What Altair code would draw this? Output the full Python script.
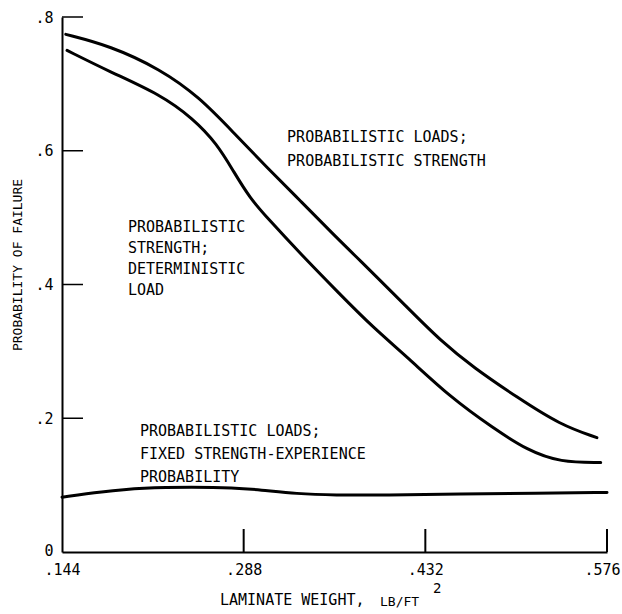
import altair as alt
import pandas as pd

# Probabilistic loads; probabilistic strength
top_x = [.147, .182, .222, .253, .280, .307, .333, .359, .378, .391, .418, .444, .470, .505, .539, .568]
top_y = [.774, .757, .722, .680, .627, .574, .525, .475, .440, .416, .365, .316, .276, .231, .190, .171]

# Probabilistic strength; deterministic load
mid_x = [.148, .182, .222, .248, .267, .280, .293, .307, .333, .364, .391, .418, .452, .486, .513, .539, .571]
mid_y = [.750, .718, .684, .648, .610, .569, .529, .499, .446, .386, .335, .291, .231, .185, .152, .134, .134]

# Probabilistic loads; fixed strength-experience probability
low_x = [.144, .175, .208, .248, .280, .301, .330, .360, .400, .460, .520, .576]
low_y = [.082, .090, .096, .097, .096, .093, .087, .085, .085, .087, .088, .089]

x_ticks = [.144, .288, .432, .576]
y_ticks = [0, .2, .4, .6, .8]
x_inner_ticks = [.288, .432, .576]
y_inner_ticks = [.2, .4, .6, .8]

FONT = "DejaVu Sans Mono"
W, H = 545, 535

curves = pd.concat([
    pd.DataFrame({"series": "loads_strength", "w": top_x, "p": top_y}),
    pd.DataFrame({"series": "strength_load", "w": mid_x, "p": mid_y}),
    pd.DataFrame({"series": "fixed_strength", "w": low_x, "p": low_y}),
])

xs = alt.Scale(domain=[.144, .576], nice=False, zero=False)
ys = alt.Scale(domain=[0, .8], nice=False, zero=False)

x_axis = alt.Axis(
    values=x_ticks, ticks=False, grid=False, title=None,
    labelExpr="replace(format(datum.value, '.3f'), '0.', '.')",
    labelFont=FONT, labelFontSize=15, labelColor="black", labelPadding=10,
    labelOffset={"condition": {"test": "datum.value > 0.5", "value": -5}, "value": 0},
    domainColor="black", domainWidth=2, labelFlush=False,
)
y_axis = alt.Axis(
    values=y_ticks, ticks=False, grid=False, title=None,
    labelExpr="datum.value == 0 ? '0' : replace(format(datum.value, '.1f'), '0.', '.')",
    labelFont=FONT, labelFontSize=15, labelColor="black", labelPadding=9,
    labelOffset={"condition": {"test": "datum.value == 0", "value": -2}, "value": 0},
    domainColor="black", domainWidth=2, labelFlush=False,
)

lines = alt.Chart(curves).mark_line(
    color="black", strokeWidth=3, interpolate="basis", strokeCap="round"
).encode(
    x=alt.X("w:Q", scale=xs, axis=x_axis),
    y=alt.Y("p:Q", scale=ys, axis=y_axis),
    detail="series:N",
    order="w:Q",
)

# inward-pointing tick marks
ytick = alt.Chart(pd.DataFrame({"v": y_inner_ticks})).mark_rule(
    color="black", strokeWidth=1.5
).encode(y=alt.Y("v:Q", scale=ys, axis=y_axis), x=alt.value(0), x2=alt.value(21))

xtick = alt.Chart(pd.DataFrame({"v": x_inner_ticks})).mark_rule(
    color="black", strokeWidth=2
).encode(x=alt.X("v:Q", scale=xs, axis=x_axis), y=alt.value(H), y2=alt.value(H - 23))

one = alt.Data(values=[{}])


def label(lines_, x, y, size=15, lh=23):
    return alt.Chart(one).mark_text(
        text=lines_, font=FONT, fontSize=size, lineHeight=lh, align="left",
        baseline="top", color="black"
    ).encode(
        x=alt.datum(x, scale=xs, axis=x_axis),
        y=alt.datum(y, scale=ys, axis=y_axis),
    )


lab_a = label(["PROBABILISTIC LOADS;", "PROBABILISTIC STRENGTH"], .3224, .631, lh=24)
lab_b = label(["PROBABILISTIC", "STRENGTH;", "DETERMINISTIC", "LOAD"], .1963, .497, lh=21)
lab_c = label(["PROBABILISTIC LOADS;", "FIXED STRENGTH-EXPERIENCE", "PROBABILITY"], .2058, .192, lh=23)

# axis titles
y_title = alt.Chart(one).mark_text(
    text="PROBABILITY OF FAILURE", font=FONT, fontSize=13, angle=270,
    align="center", baseline="middle", color="black"
).encode(x=alt.value(-44), y=alt.value(248))

x_title_a = alt.Chart(one).mark_text(
    text="LAMINATE WEIGHT,", font=FONT, fontSize=15, align="left",
    baseline="middle", color="black"
).encode(x=alt.value(158), y=alt.value(583))
x_title_b = alt.Chart(one).mark_text(
    text="LB/FT", font=FONT, fontSize=13, align="left",
    baseline="middle", color="black"
).encode(x=alt.value(318), y=alt.value(585))
x_title_c = alt.Chart(one).mark_text(
    text="2", font=FONT, fontSize=14, align="left",
    baseline="middle", color="black"
).encode(x=alt.value(371), y=alt.value(572))

chart = alt.layer(
    lines, ytick, xtick, lab_a, lab_b, lab_c, y_title, x_title_a, x_title_b, x_title_c
).properties(
    width=W, height=H,
    autosize=alt.AutoSizeParams(type="none"),
    padding={"left": 62, "top": 17, "right": 15, "bottom": 62},
    background="white",
).configure_view(stroke=None)

chart.save("out.html", embed_options={"renderer": "svg", "actions": False})
